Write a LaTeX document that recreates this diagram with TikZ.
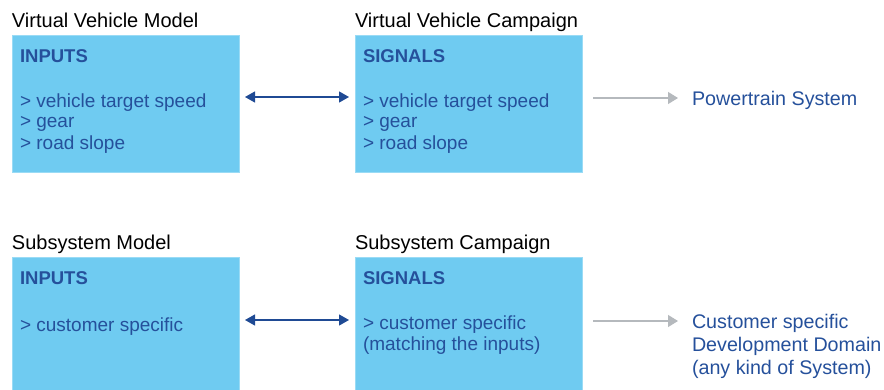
\documentclass[tikz,border=0pt]{standalone}
\usepackage{fontspec}
\setmainfont{Liberation Sans}
\usetikzlibrary{positioning, arrows.meta}

\definecolor{boxblue}{HTML}{6FCBF1}
\definecolor{textblue}{HTML}{25509B}
\definecolor{arrowblue}{HTML}{1F4A94}
\definecolor{arrowgray}{HTML}{B5B9BD}

\begin{document}
\begin{tikzpicture}[
    x=1pt, y=1pt,
    node distance=85pt and 116pt,
    every node/.style={inner sep=0pt, outer sep=0pt},
    box/.style={rectangle, fill=boxblue, draw=boxblue!70!white, minimum width=227pt},
    title/.style={font=\fontsize{20}{22}\selectfont, anchor=base west},
    heading/.style={font=\fontsize{18.5}{21}\selectfont\bfseries, text=textblue, anchor=base west},
    listing/.style={font=\fontsize{19}{21}\selectfont, text=textblue, align=left, anchor=base west},
    target/.style={font=\fontsize{19.7}{23}\selectfont, text=textblue, align=left, anchor=base west},
    link/.style={{Triangle[length=10pt, width=11pt]}-{Triangle[length=10pt, width=11pt]}, arrowblue, line width=1.3pt},
    feed/.style={-{Triangle[length=10pt, width=12pt]}, arrowgray, line width=1.3pt}
]
    \useasboundingbox (0,0) rectangle (884,389);

    % Virtual vehicle boxes
    \node[box, minimum height=137pt, anchor=north west] (vvmbox) at (12,354) {};
    \node[box, minimum height=137pt, right=of vvmbox] (vvcbox) {};

    % Subsystem boxes
    \node[box, minimum height=140pt, below=of vvmbox] (ssmbox) {};
    \node[box, minimum height=140pt, right=of ssmbox] (sscbox) {};

    % Titles
    \node[title] (vvmtitle) at ([yshift=7pt]vvmbox.north west) {Virtual Vehicle Model};
    \node[title] (vvctitle) at ([yshift=7pt]vvcbox.north west) {Virtual Vehicle Campaign};
    \node[title] (ssmtitle) at ([yshift=8pt]ssmbox.north west) {Subsystem Model};
    \node[title] (ssctitle) at ([yshift=8pt]sscbox.north west) {Subsystem Campaign};

    % Box contents (base = last line)
    \node[heading] (vvmhead) at ([xshift=8pt, yshift=-28pt]vvmbox.north west) {INPUTS};
    \node[listing] (vvmlist) at ([xshift=8pt, yshift=-114pt]vvmbox.north west) {> vehicle target speed\\> gear\\> road slope};
    \node[heading] (vvchead) at ([xshift=8pt, yshift=-28pt]vvcbox.north west) {SIGNALS};
    \node[listing] (vvclist) at ([xshift=8pt, yshift=-114pt]vvcbox.north west) {> vehicle target speed\\> gear\\> road slope};

    \node[heading] (ssmhead) at ([xshift=8pt, yshift=-27pt]ssmbox.north west) {INPUTS};
    \node[listing] (ssmlist) at ([xshift=8pt, yshift=-74pt]ssmbox.north west) {> customer specific};
    \node[heading] (sschead) at ([xshift=8pt, yshift=-27pt]sscbox.north west) {SIGNALS};
    \node[listing] (ssclist) at ([xshift=8pt, yshift=-93pt]sscbox.north west) {> customer specific\\(matching the inputs)};

    % Targets
    \node[target] (ptsys) at ([xshift=110pt, yshift=-71pt]vvcbox.north east) {Powertrain System};
    \node[target] (cdd) at ([xshift=110pt, yshift=-117pt]sscbox.north east) {Customer specific\\Development Domain\\(any kind of System)};

    % Arrows
    \draw[link] ([xshift=6pt, yshift=-62pt]vvmbox.north east) -- ([xshift=-6pt, yshift=-62pt]vvcbox.north west);
    \draw[link] ([xshift=6pt, yshift=-63pt]ssmbox.north east) -- ([xshift=-6pt, yshift=-63pt]sscbox.north west);
    \draw[feed] ([xshift=11pt, yshift=-63pt]vvcbox.north east) -- ([xshift=-14pt, yshift=8pt]ptsys.base west);
    \draw[feed] ([xshift=11pt, yshift=-64pt]sscbox.north east) -- ([xshift=-14pt, yshift=53pt]cdd.base west);

\end{tikzpicture}
\end{document}
